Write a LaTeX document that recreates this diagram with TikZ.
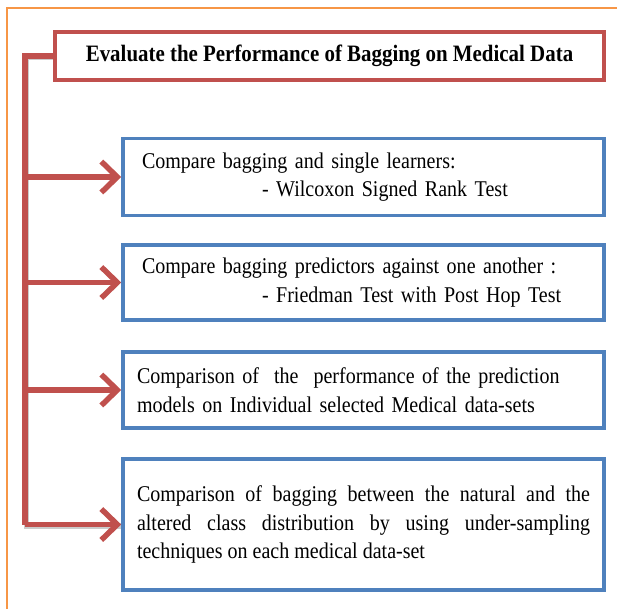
\documentclass[tikz,border=0pt]{standalone}
\usepackage{fontspec}
\setmainfont{Liberation Serif}[FakeStretch=0.89]
\usepackage{tikz}
\usetikzlibrary{arrows.meta}
\definecolor{framecol}{HTML}{F79646}
\definecolor{redcol}{HTML}{C0504D}
\definecolor{bluecol}{HTML}{4F81BD}
\pgfdeclarelayer{edgelayer}
\pgfdeclarelayer{nodelayer}
\pgfsetlayers{edgelayer,nodelayer,main}
\tikzstyle{titlebox}=[rectangle, fill=white, draw=redcol, line width=3.5, minimum width=549, minimum height=48, font=\fontsize{23.5}{27}\selectfont\bfseries]
\tikzstyle{cmpbox}=[rectangle, fill=white, draw=bluecol, line width=3.5, inner ysep=0, font=\fontsize{22.5}{28.5}\selectfont]
\tikzstyle{trunk}=[draw=redcol, line width=5.5]
\tikzstyle{branch}=[draw=redcol, line width=5.5, -{Straight Barb[length=16, width=31]}]
\tikzstyle{shade}=[draw=black!45, opacity=0.45, line width=5.5, transform canvas={shift={(1.5,1.5)}}]

\begin{document}
\begin{tikzpicture}[x=1pt, y=-1pt]
						\useasboundingbox (0, 0) rectangle (617, 608);
						\draw [draw=framecol, line width=2.5] (7, 612) -- (7, 8) -- (621, 8);
						\begin{pgfonlayer}{nodelayer}
							\node [style=titlebox] (title) at (329.5, 56) {Evaluate the Performance of Bagging on Medical Data};
							\node [style=cmpbox, minimum width=481, minimum height=77, inner xsep=19, text width=443, align=left] (cmp1) at (363.5, 177) {Compare bagging and single learners:\\\hspace*{120pt}- Wilcoxon Signed Rank Test};
							\node [style=cmpbox, minimum width=481, minimum height=75, inner xsep=19, text width=443, align=left] (cmp2) at (363.5, 282.5) {Compare bagging predictors against one another :\\\hspace*{120pt}- Friedman Test with Post Hop Test};
							\node [style=cmpbox, minimum width=481, minimum height=76, inner xsep=14, text width=453, align=left] (cmp3) at (363.5, 390) {Comparison of\ \ the\ \ performance of the prediction\\models on Individual selected Medical data-sets};
							\node [style=cmpbox, minimum width=481, minimum height=131, inner xsep=14, text width=453, align=justify] (cmp4) at (363.5, 524.5) {Comparison of bagging between the natural and the\linebreak altered class distribution by using under-sampling\linebreak techniques on each medical data-set};
							\coordinate (spine) at (25, 0);
						\end{pgfonlayer}
						\begin{pgfonlayer}{edgelayer}
							\draw [style=shade] (title.west) -| (spine |- cmp4.west) -- (cmp4.west);
							\draw [style=trunk] (title.west) -| (spine |- cmp4.west);
							\draw [style=branch] (spine |- cmp1.west) to (cmp1.west);
							\draw [style=branch] (spine |- cmp2.west) to (cmp2.west);
							\draw [style=branch] (spine |- cmp3.west) to (cmp3.west);
							\draw [style=branch] (spine |- cmp4.west) to (cmp4.west);
						\end{pgfonlayer}
					\end{tikzpicture}
\end{document}
